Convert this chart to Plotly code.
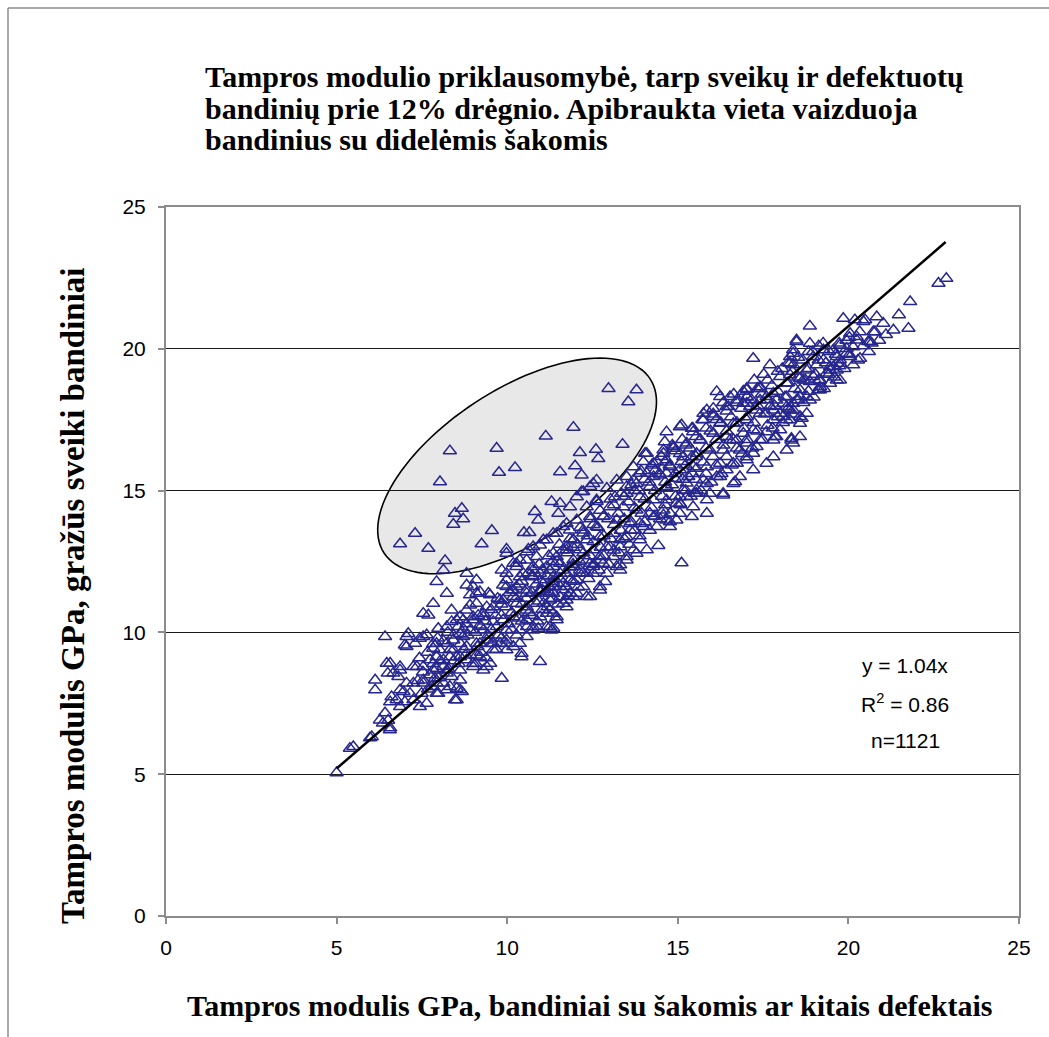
import numpy as np
import plotly.graph_objects as go

# ---- data (GPa) ----
# points inside the outlined (large-knot) region
x_knot = [12.97, 13.79, 13.55, 11.94, 11.13, 8.32, 9.69, 12.13, 12.60, 12.67, 13.38, 9.76, 10.23, 11.55,
          11.99, 12.18, 8.03, 12.52, 12.23, 11.30, 11.55, 12.62, 8.67, 8.47, 8.71, 8.42, 10.81, 10.91,
          11.50, 7.30, 6.86, 7.69, 9.55, 10.49, 10.65, 9.25, 8.18, 9.98, 10.62, 8.13]
y_knot = [18.60, 18.55, 18.13, 17.23, 16.92, 16.40, 16.49, 16.34, 16.45, 16.13, 16.63, 15.64, 15.81, 15.66,
          15.87, 15.55, 15.31, 15.25, 14.96, 14.61, 14.55, 14.61, 14.37, 14.20, 14.00, 13.81, 14.26, 13.96,
          14.20, 13.49, 13.12, 12.96, 13.59, 13.52, 13.52, 13.12, 12.53, 12.93, 12.93, 12.20]

# main cloud: individually readable points
x_main = [
    5.00, 5.39, 5.49, 6.03, 5.98, 6.42, 6.36, 6.57, 6.51, 6.27, 6.61, 6.13, 6.13, 6.47, 6.50, 6.86, 6.81,
    6.57, 6.76, 6.96, 7.05, 7.15, 7.00, 6.86, 7.44, 7.49, 7.35, 7.54, 6.42, 7.00, 7.10, 7.30, 7.44, 7.64,
    7.83, 7.74, 7.93, 7.88, 7.79, 7.93, 7.54, 8.23, 8.47, 8.52, 8.67, 8.62, 8.37, 8.13, 8.23, 8.32, 8.13,
    8.03, 8.23, 8.42, 8.62, 8.81, 9.00, 9.10, 9.40, 9.30, 9.84, 10.42, 10.96, 8.42, 8.71, 8.81, 9.10, 9.40,
    9.59, 9.79, 9.98, 10.18, 10.37, 9.98, 10.57, 10.91, 11.35, 10.76, 7.54, 7.83, 7.69, 8.23, 7.93, 8.81,
    9.10, 9.45, 9.10, 8.37, 8.62, 8.37, 8.91, 9.00, 9.30, 9.20, 9.59, 9.59, 9.88, 9.88, 9.98, 10.27, 10.27,
    10.57, 10.57, 10.86, 10.96, 11.25, 11.35, 11.06, 11.35, 11.64, 11.84, 11.64, 11.45, 11.25, 12.04, 12.33,
    12.13, 12.52, 12.81, 13.31, 12.87, 12.72, 12.92, 11.94, 11.35, 10.76, 10.47, 10.27, 9.84, 8.81, 9.00,
    6.56, 7.25, 7.64,
    8.91, 9.20, 9.50, 9.10, 9.40, 8.81, 8.52, 8.23, 7.98, 8.71, 9.00, 9.30, 9.79, 9.98, 9.98, 10.37, 10.18,
    10.57, 10.96, 11.16, 11.35, 11.64, 10.96, 11.16, 11.45, 11.74, 11.94, 11.55, 11.35, 10.96, 10.18, 10.57,
    11.25, 11.74, 11.35, 10.57, 10.18, 9.88, 9.69, 9.30, 8.91, 8.62, 9.98, 10.37, 10.76, 11.16, 10.42, 9.59,
    9.20, 7.93, 7.54, 7.05, 7.05, 6.57, 6.86, 6.66, 7.25, 7.93, 8.52, 9.20, 9.50, 9.00, 8.62, 8.23, 7.83,
    7.54, 7.25, 6.86, 7.93, 8.32, 8.62, 8.52, 7.98,
    15.11, 15.45, 14.67, 14.62, 14.87, 14.58, 14.09, 13.99, 14.38, 14.77, 15.11, 15.41, 15.55, 15.31, 14.92,
    14.48, 14.09, 13.70, 13.50, 13.79, 14.18, 14.67, 15.16, 15.50, 15.41, 15.06, 14.67, 14.29, 13.89, 13.50,
    13.16, 12.92, 13.21, 12.62, 12.43, 12.18, 12.62, 12.33, 13.01, 13.40, 13.79, 14.18, 14.58, 14.96, 14.77,
    14.38, 13.99, 13.60, 13.21, 12.82, 12.43, 12.04, 12.62, 12.23, 11.84, 11.94, 12.33, 12.72, 13.11, 13.50,
    13.89, 14.43, 14.09, 13.70, 13.31, 12.92, 12.52, 12.13, 11.74, 11.35, 11.55, 11.94, 12.33, 12.72, 13.11,
    13.50, 13.31, 12.52, 12.13, 11.74, 11.25, 10.96, 11.35, 11.74, 12.23, 12.72, 12.33, 11.94, 11.55, 11.16,
    12.04, 11.84, 11.74, 11.45, 11.06, 10.76, 10.86, 10.57, 10.27, 10.76, 10.37, 10.76, 9.98, 10.18, 10.57,
    10.96, 15.11, 15.85, 16.33, 14.77,
    15.75, 16.04, 16.48, 16.92, 11.30, 11.45, 11.16, 11.74, 12.04, 12.43, 13.21, 13.50, 13.79, 14.67, 15.06,
    15.45, 15.85, 16.63, 16.82, 17.21, 17.60, 17.80, 18.19, 18.38, 18.58, 18.58, 18.78, 18.19, 18.00, 17.31,
    17.02, 16.73, 16.43, 16.14, 15.85, 15.55, 15.26, 14.96, 14.58, 14.29, 13.89, 13.60, 13.31, 13.01, 12.72,
    12.43, 11.84, 11.55, 11.25, 11.06, 16.92, 16.53,
    18.87, 18.48, 18.87, 17.21, 17.70, 18.29, 18.38, 16.14, 16.53, 17.02, 17.41, 17.60, 18.00, 18.19, 18.68,
    18.58, 18.48, 18.78, 18.63, 18.38, 18.19, 17.89, 17.80, 18.09, 17.60, 17.31, 17.02, 16.73, 16.43, 15.85,
    16.04, 15.75, 15.06, 15.41, 16.24, 16.63, 17.02, 17.21, 17.60, 17.89, 18.33, 17.80, 17.41, 17.02, 16.73,
    16.43, 16.04, 15.65, 15.26, 14.87, 14.58, 14.04, 14.29, 14.67, 15.16, 15.55, 15.94, 16.33, 16.82, 17.21,
    17.02, 16.63, 16.24, 15.85, 15.46, 15.06, 14.67, 14.29, 13.89, 13.70, 13.50, 14.67, 15.26, 15.75, 16.24,
    16.68, 16.33, 15.94, 15.55, 15.06,
    22.64, 22.87, 21.81, 20.83, 20.44, 19.85, 20.19, 20.73, 21.32, 21.76, 20.78, 18.48, 20.05, 20.24, 20.63,
    19.75, 19.56, 19.95, 18.38, 19.27, 18.29, 18.38, 18.97, 19.27, 19.66, 20.05, 20.34, 19.75, 20.14, 19.46,
    19.07, 18.78, 18.29, 18.58, 18.97, 19.36, 19.66, 19.17, 18.87, 19.75, 19.46, 19.17, 17.02, 17.41, 17.80,
    18.19, 18.58, 18.87, 18.09, 18.38, 18.00, 18.29, 18.58, 18.29, 17.80, 17.41, 17.12, 17.02, 17.41, 17.70,
    20.49, 16.24, 17.85, 18.33, 19.17, 19.46, 19.66, 19.12, 20.58, 20.14, 19.95, 19.75, 20.24, 19.56, 20.60,
    20.90, 21.10,
]
y_main = [
    5.05, 5.91, 5.97, 6.32, 6.28, 7.16, 6.80, 6.63, 6.90, 6.91, 7.73, 7.97, 8.32, 8.91, 8.56, 8.79, 8.44,
    7.55, 7.62, 7.91, 8.21, 7.85, 7.55, 7.38, 7.38, 7.85, 8.79, 8.79, 9.85, 9.55, 9.96, 9.61, 9.79, 9.91,
    9.44, 9.03, 8.73, 8.38, 8.09, 7.85, 8.21, 7.97, 7.62, 8.03, 7.91, 8.32, 8.44, 8.21, 8.67, 9.14, 9.03,
    9.38, 9.61, 9.38, 9.14, 9.03, 8.91, 9.20, 8.79, 8.67, 8.38, 9.14, 8.97, 9.73, 9.85, 9.50, 9.61, 9.73,
    9.38, 9.61, 9.73, 9.50, 9.61, 9.38, 9.85, 10.14, 10.14, 10.20, 10.67, 11.02, 10.61, 11.38, 11.79, 11.67,
    11.85, 11.38, 11.38, 10.79, 10.55, 10.38, 10.96, 10.55, 10.67, 10.26, 10.38, 10.90, 11.14, 11.67, 12.08,
    11.61, 11.02, 11.38, 10.79, 11.02, 10.55, 10.79, 11.38, 11.73, 11.96, 11.73, 11.38, 11.02, 10.44, 10.20,
    11.85, 12.08, 12.20, 12.32, 12.43, 12.38, 11.79, 11.49, 12.08, 12.32, 12.32, 12.20, 12.08, 12.43, 12.20,
    12.08, 11.61, 6.56, 7.62, 7.50,
    11.32, 11.43, 11.32, 11.02, 10.90, 10.79, 10.44, 10.20, 10.14, 10.44, 10.44, 10.55, 11.14, 11.61, 12.79,
    12.55, 12.43, 12.84, 13.08, 13.26, 13.49, 13.73, 12.08, 12.32, 12.67, 13.02, 13.26, 12.08, 11.61, 11.49,
    11.26, 10.90, 11.14, 10.90, 10.67, 10.44, 10.55, 10.44, 10.20, 10.08, 10.08, 9.96, 10.08, 10.08, 10.08,
    10.20, 9.26, 9.61, 9.61, 9.61, 9.85, 9.85, 9.50, 8.91, 8.67, 8.56, 8.79, 9.14, 9.14, 9.14, 8.91, 8.79,
    8.67, 8.56, 8.67, 8.32, 8.21, 7.97, 8.21, 8.09, 7.97, 7.62, 7.85,
    17.31, 17.07, 17.07, 16.72, 16.55, 16.31, 16.31, 16.02, 16.02, 15.84, 16.02, 16.19, 15.78, 15.49, 15.43,
    15.55, 15.61, 15.84, 15.49, 15.25, 15.14, 15.08, 15.02, 14.90, 14.08, 14.55, 14.67, 14.67, 14.78, 14.90,
    14.78, 15.08, 15.37, 15.37, 15.14, 14.96, 14.67, 14.43, 14.43, 14.43, 14.31, 14.20, 14.14, 13.96, 13.73,
    13.73, 13.73, 13.84, 13.96, 14.08, 14.08, 13.96, 13.73, 13.61, 13.61, 13.26, 13.26, 13.37, 13.49, 13.37,
    13.26, 13.06, 12.91, 12.91, 13.02, 13.02, 12.91, 12.91, 12.91, 12.79, 12.43, 12.55, 12.55, 12.55, 12.67,
    12.55, 12.20, 12.08, 12.08, 12.08, 12.20, 11.85, 11.73, 11.61, 11.61, 11.61, 11.26, 11.26, 11.26, 11.38,
    14.78, 14.43, 13.84, 13.49, 13.26, 13.02, 12.67, 12.55, 12.32, 12.32, 11.96, 11.96, 11.85, 11.49, 11.49,
    11.43, 12.45, 14.20, 14.84, 13.90,
    17.72, 17.90, 17.96, 18.08, 10.08, 10.55, 10.67, 11.14, 11.38, 11.26, 12.32, 12.67, 12.79, 13.96, 14.20,
    14.43, 14.67, 15.25, 15.49, 15.73, 15.96, 16.19, 16.43, 16.67, 16.90, 17.37, 17.72, 17.49, 17.14, 16.55,
    16.19, 15.96, 15.73, 15.49, 15.25, 15.02, 14.78, 14.55, 14.31, 14.08, 13.84, 13.61, 13.26, 13.02, 12.67,
    12.43, 11.85, 11.61, 11.38, 11.02, 17.02, 16.78,
    20.80, 20.25, 20.19, 19.66, 19.43, 19.49, 19.84, 18.49, 18.31, 18.60, 18.60, 18.31, 19.02, 18.78, 18.90,
    18.55, 18.19, 18.31, 17.55, 17.84, 17.96, 18.19, 17.84, 17.61, 17.72, 17.84, 18.08, 18.19, 17.96, 17.84,
    17.61, 17.49, 17.25, 17.19, 17.37, 17.37, 17.49, 17.14, 17.07, 16.90, 16.84, 16.78, 16.78, 16.67, 16.78,
    16.90, 17.02, 16.78, 16.67, 16.49, 16.43, 16.31, 15.96, 16.08, 16.19, 16.31, 16.43, 16.43, 16.43, 16.31,
    16.08, 15.96, 15.96, 15.84, 15.84, 15.73, 15.61, 15.49, 15.61, 15.37, 15.14, 15.14, 15.26, 15.37, 15.49,
    15.31, 14.90, 14.90, 14.90, 14.78,
    22.31, 22.48, 21.66, 21.13, 20.96, 21.07, 21.02, 20.60, 20.66, 20.72, 20.60, 20.31, 20.54, 20.31, 20.25,
    20.13, 19.96, 20.01, 19.96, 19.96, 19.72, 19.43, 19.72, 19.61, 19.72, 19.72, 19.66, 19.49, 19.43, 19.37,
    19.43, 19.25, 19.08, 18.96, 19.02, 19.14, 19.25, 18.66, 18.84, 18.90, 18.78, 18.55, 18.55, 18.66, 18.43,
    18.31, 18.31, 18.19, 18.08, 18.08, 17.72, 17.84, 17.61, 17.49, 17.49, 17.72, 17.96, 18.31, 18.19, 17.96,
    21.02, 18.31, 16.90, 16.78, 18.90, 19.25, 18.90, 18.55, 20.25, 20.07, 19.84, 19.61, 20.43, 19.37, 19.90,
    20.30, 20.50,
]

# main cloud: estimated points in the densely overlapping core of the band
x_core = [
    8.78, 8.84, 8.81, 9.08, 9.13, 9.06, 9.15, 9.38, 9.44, 9.36, 9.68, 9.74, 9.66, 9.72,
    9.98, 10.04, 9.96, 10.06, 10.28, 10.33, 10.26, 10.35, 10.58, 10.64, 10.56, 10.62,
    10.88, 10.93, 10.85, 10.94, 11.18, 11.24, 11.16, 11.22, 11.48, 11.54, 11.46, 11.53,
    11.78, 11.83, 11.76, 11.84, 12.08, 12.13, 12.06, 12.14, 12.38, 12.43, 12.36, 12.44,
    12.68, 12.74, 12.66, 12.72, 12.98, 13.04, 12.96, 13.03, 13.28, 13.33, 13.26, 13.34,
    13.58, 13.63, 13.56, 13.64, 13.88, 13.94, 13.86, 13.92, 14.18, 14.23, 14.16, 14.24,
    14.48, 14.54, 14.46, 14.52, 14.78, 14.83, 14.76, 14.84, 15.08, 15.14, 15.06, 15.13,
    15.38, 15.43, 15.36, 15.44, 15.68, 15.74, 15.66, 15.72, 15.98, 16.03, 15.96, 16.04,
    16.28, 16.34, 16.26, 16.33, 16.58, 16.63, 16.56, 16.64, 16.88, 16.94, 16.86, 16.92,
    17.18, 17.23, 17.16, 17.24, 17.48, 17.54, 17.46, 17.52, 17.78, 17.83, 17.76,
    18.08, 18.14, 18.06, 18.38, 18.43, 18.36, 18.68, 18.74, 18.66, 18.98, 19.03, 18.96,
    19.28, 19.34, 19.26, 19.58, 19.63, 19.88, 19.94, 20.28, 20.33, 20.68, 21.02, 21.48,
    7.38, 7.43, 7.68, 7.73, 7.66, 7.98, 8.04, 7.96, 8.28, 8.33, 8.26, 8.58, 8.63, 8.56,
    9.23, 9.23, 9.53, 9.53, 9.53, 9.83, 9.83, 9.83, 10.13, 10.13, 10.13, 10.43, 10.43, 10.43,
    10.73, 10.73, 10.73, 11.03, 11.03, 11.03, 11.33, 11.33, 11.33, 11.63, 11.63, 11.63,
    11.93, 11.93, 11.93, 12.23, 12.23, 12.23, 12.53, 12.53, 12.53, 12.83, 12.83, 12.83,
    13.13, 13.13, 13.13, 13.43, 13.43, 13.43, 13.73, 13.73, 13.73, 14.03, 14.03, 14.03,
    14.33, 14.33, 14.33, 14.63, 14.63, 14.63, 14.93, 14.93, 14.93, 15.23, 15.23, 15.23,
    15.53, 15.53, 15.53, 15.83, 15.83, 15.83, 16.13, 16.13, 16.13, 16.43, 16.43, 16.43,
    16.73, 16.73, 16.73, 17.03, 17.03, 17.03, 17.33, 17.33, 17.33, 17.63, 17.63, 17.63,
    17.93, 17.93, 17.93, 18.23, 18.23, 18.23, 18.53, 18.53, 18.53, 18.83, 18.83, 18.83,
    19.13, 19.13, 19.13, 19.43, 19.43, 19.73, 19.73, 20.03, 20.03, 20.43,
    7.53, 7.83, 7.83, 8.13, 8.13, 8.43, 8.43, 8.73, 8.73,
]
y_core = [
    9.2, 9.9, 10.3, 8.9, 9.5, 10.0, 10.6, 9.1, 9.9, 10.4, 9.4, 9.9, 10.6, 11.2,
    9.6, 10.3, 10.9, 11.4, 9.9, 10.5, 11.2, 11.7, 10.2, 10.7, 11.2, 12.1,
    10.4, 11.1, 11.7, 12.4, 10.9, 11.6, 12.0, 12.7, 11.0, 11.9, 12.5, 13.1,
    11.3, 12.3, 12.8, 13.3, 11.6, 12.5, 13.1, 13.7, 11.9, 12.7, 13.4, 14.0,
    12.2, 13.0, 13.7, 14.3, 12.4, 13.3, 14.0, 14.7, 12.8, 13.6, 14.2, 14.9,
    13.1, 13.9, 14.6, 15.2, 13.4, 14.2, 15.0, 15.7, 13.6, 14.4, 15.3, 15.9,
    14.0, 14.8, 15.6, 16.2, 14.2, 15.2, 15.9, 16.6, 14.5, 15.4, 16.3, 16.8,
    14.8, 15.6, 16.5, 17.2, 15.0, 16.0, 16.8, 17.5, 15.3, 16.2, 17.1, 17.7,
    15.6, 16.6, 17.4, 18.1, 15.9, 16.8, 17.6, 18.4, 16.3, 17.2, 17.9, 18.5,
    16.5, 17.4, 18.2, 18.9, 16.8, 17.7, 18.4, 19.1, 17.2, 18.0, 18.7,
    17.4, 18.3, 19.3, 17.7, 18.6, 19.2, 18.1, 18.9, 19.6, 18.3, 19.1, 19.9,
    18.6, 19.5, 20.2, 19.0, 19.8, 19.3, 20.3, 19.6, 20.6, 20.2, 20.9, 21.2,
    8.3, 9.1, 8.0, 8.5, 9.3, 8.4, 9.0, 9.8, 8.7, 9.4, 10.0, 8.9, 9.6, 10.2,
    9.3, 10.2, 9.6, 10.1, 10.8, 9.8, 10.6, 11.0, 10.1, 10.7, 11.5, 10.4, 11.0, 11.8,
    10.6, 11.4, 12.0, 10.8, 11.5, 12.2, 11.2, 11.8, 12.5, 11.5, 12.2, 12.9,
    11.8, 12.4, 13.0, 12.1, 12.8, 13.5, 12.4, 13.2, 13.8, 12.7, 13.4, 14.1,
    12.9, 13.8, 14.5, 13.3, 14.0, 14.8, 13.6, 14.4, 15.0, 13.9, 14.7, 15.4,
    14.1, 15.0, 15.7, 14.5, 15.3, 16.0, 14.8, 15.6, 16.4, 15.0, 15.9, 16.6,
    15.4, 16.2, 16.9, 15.6, 16.5, 17.2, 15.9, 16.8, 17.5, 16.2, 17.1, 17.8,
    16.5, 17.4, 18.1, 16.8, 17.6, 18.3, 17.1, 18.0, 18.6, 17.3, 18.2, 18.9,
    17.6, 18.5, 19.2, 17.9, 18.8, 19.5, 18.2, 19.0, 19.7, 18.5, 19.3, 19.9,
    18.9, 19.6, 20.1, 19.1, 19.9, 19.4, 20.2, 19.8, 20.4, 20.1,
    8.6, 8.9, 9.6, 8.8, 9.7, 9.0, 9.9, 9.4, 10.1,
]

trend_slope = 1.04
trend_x = [5.0, 22.85]
stats_lines = ["y = 1.04x", "R<sup>2</sup> = 0.86", "n=1121"]
x_ticks = [0, 5, 10, 15, 20, 25]
y_ticks = [0, 5, 10, 15, 20, 25]

title_lines = ["Tampros modulio priklausomybė, tarp sveikų ir defektuotų",
               "bandinių prie 12% drėgnio. Apibraukta vieta vaizduoja",
               "bandinius su didelėmis šakomis"]
x_title = "Tampros modulis GPa, bandiniai su šakomis ar kitais defektais"
y_title = "Tampros modulis GPa, gražūs sveiki bandiniai"

# ---- layout geometry ----
W, H = 1049, 1037
L, R, T, B = 166, 1049 - 1019, 207, 1037 - 916
pw, ph = W - L - R, H - T - B
px_per_x = pw / 25.0
px_per_y = ph / 25.0

def paper_x(px):
    return (px - L) / pw

def paper_y(py):
    return (H - B - py) / ph

all_x = x_main + x_core + x_knot
all_y = y_main + y_core + y_knot

fig = go.Figure()

fig.add_trace(go.Scatter(
    x=all_x, y=all_y, mode="markers",
    marker=dict(symbol="triangle-up-open", size=11.5, color="#26268f",
                line=dict(color="#26268f", width=1.5)),
    showlegend=False, hoverinfo="x+y"))

fig.add_trace(go.Scatter(
    x=trend_x, y=[trend_slope * v for v in trend_x], mode="lines",
    line=dict(color="black", width=2.5), showlegend=False, hoverinfo="skip"))

# ellipse outlining large-knot samples
cx, cy = 10.29, 15.87
a_px, b_px, ang = 159.0, 76.0, np.deg2rad(33.2)
t = np.linspace(0, 2 * np.pi, 121)
ex = cx + (a_px * np.cos(t) * np.cos(ang) - b_px * np.sin(t) * np.sin(ang)) / px_per_x
ey = cy + (a_px * np.cos(t) * np.sin(ang) + b_px * np.sin(t) * np.cos(ang)) / px_per_y
path = "M " + " L ".join(f"{u:.4f},{v:.4f}" for u, v in zip(ex, ey)) + " Z"
fig.add_shape(type="path", path=path, xref="x", yref="y", layer="below",
              line=dict(color="black", width=1.6), fillcolor="rgba(205,205,205,0.45)")

# outer chart frame (left and top edges)
fig.add_shape(type="line", xref="paper", yref="paper", x0=paper_x(8), x1=paper_x(8),
              y0=paper_y(8), y1=paper_y(1040), line=dict(color="#8c8c8c", width=1.5))
fig.add_shape(type="line", xref="paper", yref="paper", x0=paper_x(8), x1=paper_x(1049),
              y0=paper_y(8), y1=paper_y(8), line=dict(color="#8c8c8c", width=1.5))

serif = "Liberation Serif, Times New Roman, serif"
sans = "Liberation Sans, Arial, sans-serif"

for line, py in zip(title_lines, [76, 108, 140]):
    fig.add_annotation(text=f"<b>{line}</b>", xref="paper", yref="paper",
                       x=paper_x(203), y=paper_y(py), xanchor="left", yanchor="middle",
                       showarrow=False, font=dict(family=serif, size=30, color="black"))

fig.add_annotation(text=f"<b>{x_title}</b>", xref="paper", yref="paper",
                   x=paper_x(590), y=paper_y(1005), xanchor="center", yanchor="middle",
                   showarrow=False, font=dict(family=serif, size=30, color="black"))
fig.add_annotation(text=f"<b>{y_title}</b>", xref="paper", yref="paper", textangle=-90,
                   x=paper_x(73), y=paper_y(596), xanchor="center", yanchor="middle",
                   showarrow=False, font=dict(family=serif, size=33, color="black"))

for line, py in zip(stats_lines, [665, 703, 740]):
    fig.add_annotation(text=line, xref="paper", yref="paper",
                       x=paper_x(905), y=paper_y(py), xanchor="center", yanchor="middle",
                       showarrow=False, font=dict(family=sans, size=21, color="black"))

fig.update_xaxes(range=[0, 25], tickvals=x_ticks, showgrid=False, zeroline=False,
                 showline=True, linecolor="#8c8c8c", linewidth=2, mirror=True,
                 ticks="outside", ticklen=6, tickcolor="#8c8c8c", tickwidth=1.5,
                 ticklabelstandoff=6,
                 tickfont=dict(family=sans, size=21, color="black"))
fig.update_yaxes(range=[0, 25], tickvals=y_ticks, showgrid=True, gridcolor="#1a1a1a",
                 gridwidth=1, zeroline=False,
                 showline=True, linecolor="#8c8c8c", linewidth=2, mirror=True,
                 ticks="outside", ticklen=6, tickcolor="#8c8c8c", tickwidth=1.5,
                 ticklabelstandoff=8,
                 tickfont=dict(family=sans, size=21, color="black"))

fig.update_layout(width=W, height=H, margin=dict(l=L, r=R, t=T, b=B, autoexpand=False),
                  paper_bgcolor="white", plot_bgcolor="white")

fig.write_html("out.html")
